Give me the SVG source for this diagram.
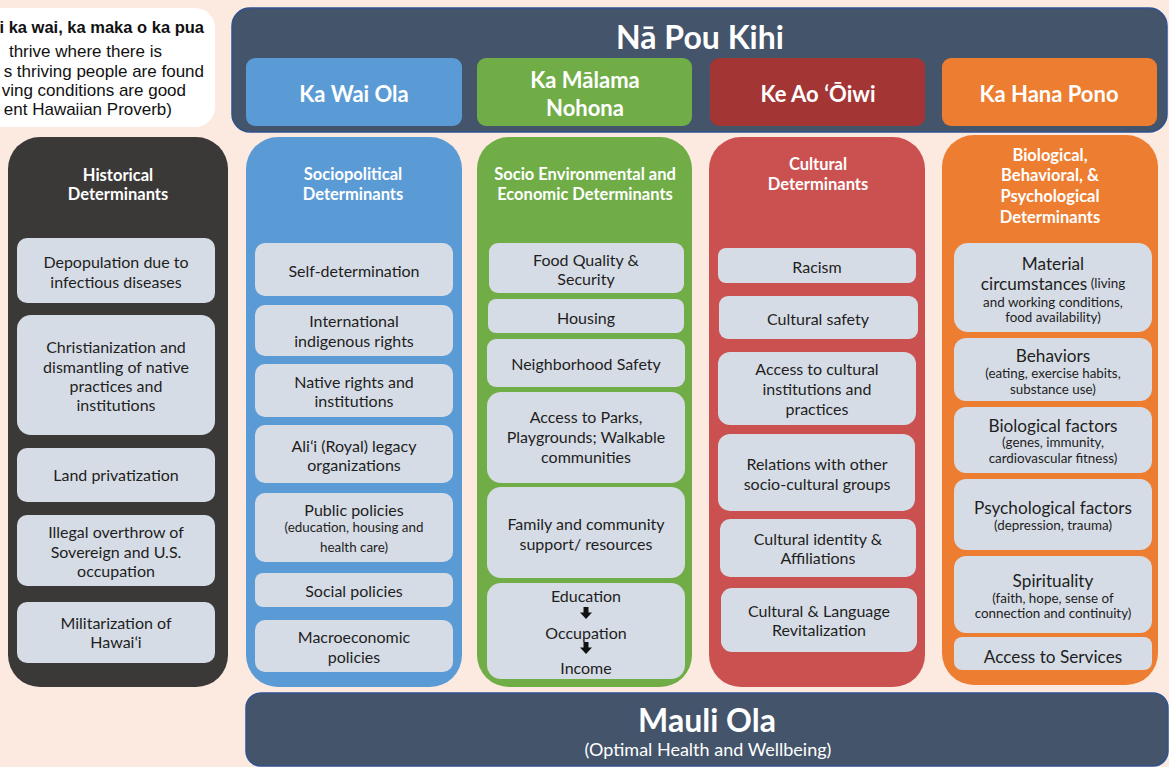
<svg xmlns="http://www.w3.org/2000/svg" width="1169" height="767" viewBox="0 0 1169 767">
<style>
.bg{fill:#FCEAE0}
.navy{fill:#44546A;stroke:#2F528F;stroke-width:1.5}
.hdr{font-family:Lato,'Liberation Sans',sans-serif;font-weight:bold;fill:#fff;text-anchor:middle;dominant-baseline:central}
.col{font-family:Lato,'Liberation Sans',sans-serif;font-weight:bold;fill:#fff;font-size:16.5px;text-anchor:middle;dominant-baseline:central}
.box{fill:#D6DCE5}
.t{font-family:Lato,'Liberation Sans',sans-serif;fill:#1E1E1E;font-size:16px;text-anchor:middle;dominant-baseline:central}
.big{font-size:17.2px}
.sm{font-size:13.4px}
.prov{font-family:'Liberation Sans',Arial,sans-serif;font-size:17px;fill:#111;text-anchor:end}
</style>
<defs>
<path id="arr" d="M-2.5,-6 h5 v5.5 h3.5 l-6,6.5 l-6,-6.5 h3.5 z" fill="#111"/>
</defs>
<rect class="bg" x="0" y="0" width="1169" height="767"/>

<g id="proverb">
<rect x="-25" y="8" width="240" height="119" rx="20" fill="#fff"/>
<text class="prov" x="204" y="33" font-weight="bold" style="font-size:16.5px">i ka wai, ka maka o ka pua</text>
<text class="prov" x="162" y="57">thrive where there is</text>
<text class="prov" x="204" y="77">s thriving people are found</text>
<text class="prov" x="186" y="96">ving conditions are good</text>
<text class="prov" x="172" y="115">ent Hawaiian Proverb)</text>
</g>

<g id="na-pou-kihi">
<rect class="navy" x="232" y="8" width="935" height="124" rx="18"/>
<text class="hdr" x="700" y="36" font-size="32px">Nā Pou Kihi</text>
</g>
<g id="ka-wai-ola">
<rect x="246" y="58" width="216" height="68" rx="9" fill="#5B9BD5"/>
<text class="hdr" x="354" y="93" font-size="22px">Ka Wai Ola</text>
</g>
<g id="ka-malama-nohona">
<rect x="477" y="58" width="215" height="68" rx="9" fill="#70AD47"/>
<text class="hdr" x="585" y="79" font-size="22px">Ka Mālama</text>
<text class="hdr" x="585" y="107" font-size="22px">Nohona</text>
</g>
<g id="ke-ao-oiwi">
<rect x="710" y="58" width="215" height="68" rx="9" fill="#A33535"/>
<text class="hdr" x="818" y="93" font-size="22px">Ke Ao ʻŌiwi</text>
</g>
<g id="ka-hana-pono">
<rect x="942" y="58" width="215" height="68" rx="9" fill="#ED7D31"/>
<text class="hdr" x="1049" y="93" font-size="22px">Ka Hana Pono</text>
</g>

<!-- Historical -->
<g id="historical">
<rect x="8" y="137" width="220" height="550" rx="32" fill="#3B3838"/>
<text class="col" x="118" y="175">Historical</text>
<text class="col" x="118" y="194">Determinants</text>
</g>
<g id="h1"><rect class="box" x="17" y="238" width="198" height="65" rx="10"/>
<text class="t" x="116" y="261">Depopulation due to</text><text class="t" x="116" y="281">infectious diseases</text></g>
<g id="h2"><rect class="box" x="17" y="315" width="198" height="120" rx="14"/>
<text class="t" x="116" y="346">Christianization and</text><text class="t" x="116" y="366">dismantling of native</text><text class="t" x="116" y="385">practices and</text><text class="t" x="116" y="404">institutions</text></g>
<g id="h3"><rect class="box" x="17" y="448" width="198" height="54" rx="10"/>
<text class="t" x="116" y="474">Land privatization</text></g>
<g id="h4"><rect class="box" x="17" y="515" width="198" height="71" rx="10"/>
<text class="t" x="116" y="531">Illegal overthrow of</text><text class="t" x="116" y="551">Sovereign and U.S.</text><text class="t" x="116" y="570">occupation</text></g>
<g id="h5"><rect class="box" x="17" y="602" width="198" height="61" rx="10"/>
<text class="t" x="116" y="622">Militarization of</text><text class="t" x="116" y="641">Hawaiʻi</text></g>

<!-- Sociopolitical -->
<g id="sociopolitical">
<rect x="246" y="137" width="216" height="550" rx="32" fill="#5B9BD5"/>
<text class="col" x="353" y="174">Sociopolitical</text>
<text class="col" x="353" y="194">Determinants</text>
</g>
<g id="s1"><rect class="box" x="255" y="243" width="198" height="53" rx="10"/>
<text class="t" x="354" y="270">Self-determination</text></g>
<g id="s2"><rect class="box" x="255" y="305" width="198" height="51" rx="10"/>
<text class="t" x="354" y="320">International</text><text class="t" x="354" y="340">indigenous rights</text></g>
<g id="s3"><rect class="box" x="255" y="364" width="198" height="53" rx="10"/>
<text class="t" x="354" y="381">Native rights and</text><text class="t" x="354" y="400">institutions</text></g>
<g id="s4"><rect class="box" x="255" y="425" width="198" height="58" rx="10"/>
<text class="t" x="354" y="445">Aliʻi (Royal) legacy</text><text class="t" x="354" y="464">organizations</text></g>
<g id="s5"><rect class="box" x="255" y="493" width="198" height="69" rx="10"/>
<text class="t" x="354" y="509">Public policies</text><text class="t sm" x="354" y="527">(education, housing and</text><text class="t sm" x="354" y="547">health care)</text></g>
<g id="s6"><rect class="box" x="255" y="573" width="198" height="34" rx="8"/>
<text class="t" x="354" y="590">Social policies</text></g>
<g id="s7"><rect class="box" x="255" y="620" width="198" height="52" rx="10"/>
<text class="t" x="354" y="636">Macroeconomic</text><text class="t" x="354" y="656">policies</text></g>

<!-- Socio Environmental -->
<g id="socio-environmental">
<rect x="477" y="137" width="215" height="550" rx="32" fill="#70AD47"/>
<text class="col" x="585" y="174">Socio Environmental and</text>
<text class="col" x="585" y="194">Economic Determinants</text>
</g>
<g id="e1"><rect class="box" x="489" y="243" width="195" height="50" rx="9"/>
<text class="t" x="586" y="259">Food Quality &amp;</text><text class="t" x="586" y="278">Security</text></g>
<g id="e2"><rect class="box" x="488" y="299" width="196" height="34" rx="8"/>
<text class="t" x="586" y="317">Housing</text></g>
<g id="e3"><rect class="box" x="487" y="339" width="198" height="48" rx="9"/>
<text class="t" x="586" y="363">Neighborhood Safety</text></g>
<g id="e4"><rect class="box" x="487" y="392" width="198" height="91" rx="14"/>
<text class="t" x="586" y="416">Access to Parks,</text><text class="t" x="586" y="436">Playgrounds; Walkable</text><text class="t" x="586" y="456">communities</text></g>
<g id="e5"><rect class="box" x="487" y="487" width="198" height="91" rx="14"/>
<text class="t" x="586" y="523">Family and community</text><text class="t" x="586" y="543">support/ resources</text></g>
<g id="e6"><rect class="box" x="487" y="583" width="198" height="96" rx="14"/>
<text class="t" x="586" y="595">Education</text><text class="t" x="586" y="632">Occupation</text><text class="t" x="586" y="667">Income</text></g>

<!-- Cultural -->
<g id="cultural">
<rect x="709" y="137" width="216" height="550" rx="32" fill="#CB5050"/>
<text class="col" x="818" y="164">Cultural</text>
<text class="col" x="818" y="184">Determinants</text>
</g>
<g id="c1"><rect class="box" x="718" y="248" width="198" height="35" rx="8"/>
<text class="t" x="817" y="266">Racism</text></g>
<g id="c2"><rect class="box" x="719" y="296" width="199" height="43" rx="9"/>
<text class="t" x="818" y="318">Cultural safety</text></g>
<g id="c3"><rect class="box" x="718" y="352" width="198" height="73" rx="12"/>
<text class="t" x="817" y="368">Access to cultural</text><text class="t" x="817" y="388">institutions and</text><text class="t" x="817" y="408">practices</text></g>
<g id="c4"><rect class="box" x="718" y="434" width="197" height="77" rx="12"/>
<text class="t" x="817" y="463">Relations with other</text><text class="t" x="817" y="483">socio-cultural groups</text></g>
<g id="c5"><rect class="box" x="720" y="519" width="196" height="58" rx="10"/>
<text class="t" x="818" y="538">Cultural identity &amp;</text><text class="t" x="818" y="557">Affiliations</text></g>
<g id="c6"><rect class="box" x="721" y="588" width="196" height="64" rx="11"/>
<text class="t" x="819" y="610">Cultural &amp; Language</text><text class="t" x="819" y="629">Revitalization</text></g>

<!-- Biological -->
<g id="biological">
<rect x="942" y="135" width="216" height="550" rx="32" fill="#ED7D31"/>
<text class="col" x="1050" y="155">Biological,</text>
<text class="col" x="1050" y="175">Behavioral, &amp;</text>
<text class="col" x="1050" y="196">Psychological</text>
<text class="col" x="1050" y="217">Determinants</text>
</g>
<g id="b1"><rect class="box" x="954" y="243" width="198" height="89" rx="14"/>
<text class="t big" x="1053" y="263">Material</text>
<text class="t" x="1053" y="283"><tspan class="big">circumstances</tspan><tspan class="sm"> (living</tspan></text>
<text class="t sm" x="1053" y="302">and working conditions,</text><text class="t sm" x="1053" y="317">food availability)</text></g>
<g id="b2"><rect class="box" x="954" y="338" width="198" height="63" rx="12"/>
<text class="t big" x="1053" y="355">Behaviors</text><text class="t sm" x="1053" y="373">(eating, exercise habits,</text><text class="t sm" x="1053" y="389">substance use)</text></g>
<g id="b3"><rect class="box" x="954" y="407" width="198" height="66" rx="12"/>
<text class="t big" x="1053" y="425">Biological factors</text><text class="t sm" x="1053" y="442">(genes, immunity,</text><text class="t sm" x="1053" y="458">cardiovascular fitness)</text></g>
<g id="b4"><rect class="box" x="954" y="479" width="198" height="71" rx="12"/>
<text class="t big" x="1053" y="507">Psychological factors</text><text class="t sm" x="1053" y="525">(depression, trauma)</text></g>
<g id="b5"><rect class="box" x="954" y="556" width="198" height="77" rx="12"/>
<text class="t big" x="1053" y="580">Spirituality</text><text class="t sm" x="1053" y="598">(faith, hope, sense of</text><text class="t sm" x="1053" y="613">connection and continuity)</text></g>
<g id="b6"><rect class="box" x="954" y="637" width="198" height="33" rx="8"/>
<text class="t big" x="1053" y="656">Access to Services</text></g>

<!-- Mauli Ola -->
<g id="mauli-ola">
<rect class="navy" x="246" y="693" width="922" height="73" rx="15"/>
<text class="hdr" x="707" y="719" font-size="32px">Mauli Ola</text>
<text class="hdr" x="708" y="749" style="font-size:18px;font-weight:normal">(Optimal Health and Wellbeing)</text>
</g>

<g id="connectors">
<use href="#arr" x="586" y="613"/>
<use href="#arr" x="586" y="648"/>
</g>
</svg>
